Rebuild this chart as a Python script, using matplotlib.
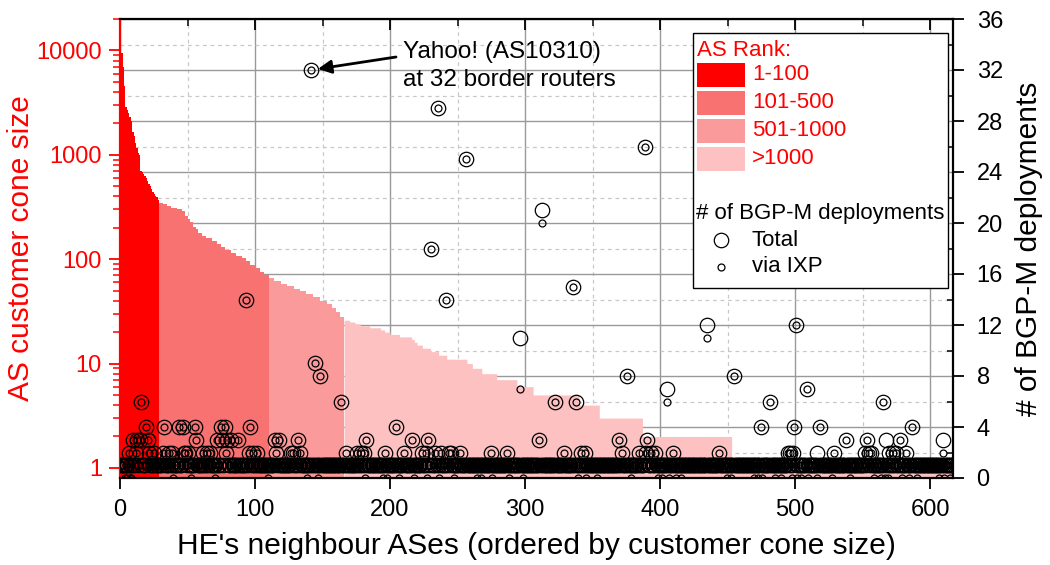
import numpy as np
import matplotlib
matplotlib.use('Agg')
import matplotlib.pyplot as plt
from matplotlib.patches import Rectangle
from matplotlib.lines import Line2D
from matplotlib.ticker import FixedLocator, MultipleLocator, NullFormatter

plt.rcParams['font.family'] = ['Liberation Sans', 'DejaVu Sans']

# customer cone size of each HE neighbour (sorted, largest first)
cone_rank100 = [17000, 9400, 7000, 4600, 2850, 2700, 2500, 2300, 2100, 1650,
                1500, 1300, 1150, 1050, 1000, 700, 680, 650, 620, 600,
                560, 530, 500, 470, 440, 420, 400, 390, 370]
# the rest as (cone size, number of ASes) runs
cone_runs = [(345, 3), (335, 3), (325, 3), (310, 4), (300, 4), (290, 2), (260, 2),
             (245, 2), (225, 2), (205, 2), (195, 2), (180, 3), (165, 3), (160, 4),
             (150, 4), (140, 3), (130, 3), (122, 4), (115, 4), (108, 4), (102, 3),
             (95, 3), (88, 4), (82, 4), (76, 3), (70, 3),
             (66, 4), (62, 5), (58, 5), (55, 5), (52, 4), (49, 5), (46, 5), (43, 5),
             (40, 5), (37, 4), (34, 3), (31, 3), (28, 3),
             (26, 4), (25, 4), (24, 4), (23, 7), (22, 8), (21, 3), (20, 4), (19, 7),
             (18, 9), (17, 2), (16, 2), (15, 4), (14, 6), (13, 6), (12, 6), (11, 15),
             (10, 4), (9, 7), (8, 11), (7, 15), (6, 12), (5, 34), (4, 15), (3, 32),
             (2, 66), (1, 164)]

rank_labels = ['1-100', '101-500', '501-1000', '>1000']
rank_counts = [29, 81, 56, 451]
rank_colors = ['#FF0000', '#F97272', '#FB9A9A', '#FDC1C1']

# ASes with more than one BGP-M deployment: index, total, via IXP
multi_idx = [141, 235, 256, 388, 312, 230, 335, 93, 241, 296, 434, 500, 144, 148,
             375, 454, 405, 508, 15, 163, 322, 337, 481, 565,
             19, 32, 43, 46, 55, 74, 77, 96, 204, 474, 499, 518, 586,
             9, 12, 14, 20, 56, 71, 75, 79, 82, 87, 114, 117, 131, 182, 216, 228,
             310, 369, 390, 537, 553, 577, 567, 609,
             6, 11, 21, 25, 31, 36, 38, 47, 48, 50, 61, 64, 66, 78, 95, 98, 101,
             115, 126, 128, 133, 167, 175, 178, 180, 196, 210, 223, 226, 233, 237,
             243, 245, 251, 274, 286, 328, 341, 344, 371, 384, 389, 393, 396, 409,
             443, 494, 496, 498, 516, 528, 551, 554, 556, 569, 572, 574, 582]
multi_total = [32, 29, 25, 26, 21, 18, 15, 14, 14, 11, 12, 12, 9, 8,
               8, 8, 7, 7, 6, 6, 6, 6, 6, 6,
               4, 4, 4, 4, 4, 4, 4, 4, 4, 4, 4, 4, 4,
               3, 3, 3, 3, 3, 3, 3, 3, 3, 3, 3, 3, 3, 3, 3, 3,
               3, 3, 3, 3, 3, 3, 3, 3,
               2, 2, 2, 2, 2, 2, 2, 2, 2, 2, 2, 2, 2, 2, 2, 2, 2,
               2, 2, 2, 2, 2, 2, 2, 2, 2, 2, 2, 2, 2, 2,
               2, 2, 2, 2, 2, 2, 2, 2, 2, 2, 2, 2, 2, 2,
               2, 2, 2, 2, 2, 2, 2, 2, 2, 2, 2, 2, 2]
multi_ixp = [32, 29, 25, 26, 20, 18, 15, 14, 14, 7, 11, 12, 9, 8,
             8, 8, 6, 7, 6, 6, 6, 6, 6, 6,
             4, 4, 4, 4, 4, 4, 4, 4, 4, 4, 4, 4, 4,
             3, 3, 3, 3, 3, 3, 3, 3, 3, 3, 3, 3, 3, 3, 3, 3,
             3, 3, 3, 3, 3, 3, 1, 2,
             2, 2, 2, 2, 2, 2, 2, 2, 2, 2, 2, 2, 2, 2, 2, 2, 2,
             2, 2, 2, 2, 2, 2, 2, 2, 2, 2, 2, 2, 2, 2,
             2, 2, 2, 2, 2, 2, 2, 2, 2, 2, 2, 2, 2, 2,
             2, 2, 2, 2, 0, 2, 2, 2, 2, 2, 2, 2, 2]
# single deployment that is not at an IXP
no_ixp_idx = [3, 5, 7, 8, 39, 52, 70, 109, 138, 146, 181, 194, 197, 206, 217,
              227, 236, 247, 264, 267, 275, 288, 298, 339, 345, 353, 378, 398,
              401, 406, 411, 415, 449, 452, 469, 472, 475, 485, 489, 497, 501,
              504, 509, 527, 540, 558, 563, 566, 568, 579, 584, 590, 606, 610, 614]

cone = list(cone_rank100)
for value, n in cone_runs:
    cone += [value] * n
cone = np.array(cone, dtype=float)
n_as = len(cone)
idx = np.arange(n_as)

total = np.ones(n_as)
ixp = np.ones(n_as)
total[multi_idx] = multi_total
ixp[multi_idx] = multi_ixp
ixp[no_ixp_idx] = 0

W, H = 1050, 565
fig = plt.figure(figsize=(W / 100, H / 100), dpi=100)
rect = [120 / W, 87 / H, 833 / W, 459 / H]

axg = fig.add_axes(rect)
axl = axg.twinx()
axc = axg.twinx()

# --- grid / right axis ---
axg.set_xlim(0, 617)
axg.set_ylim(0, 36)
axg.yaxis.tick_right()
axg.yaxis.set_label_position('right')
axg.yaxis.set_major_locator(MultipleLocator(4))
axg.yaxis.set_minor_locator(MultipleLocator(2))
axg.xaxis.set_major_locator(MultipleLocator(100))
axg.xaxis.set_minor_locator(MultipleLocator(50))
axg.grid(which='major', color='#999999', lw=1.0, ls='-')
axg.grid(which='minor', color='#c8c8c8', lw=0.9, ls=(0, (3, 3)))
axg.set_axisbelow(True)
axg.tick_params(axis='both', which='major', direction='out', length=8, width=1.3,
                labelsize=17, colors='black')
axg.tick_params(axis='both', which='minor', direction='in', length=4, width=1.1)
axg.tick_params(axis='y', which='both', left=False, right=True, labelleft=False,
                labelright=True, pad=9)
axg.tick_params(axis='x', which='both', top=False, bottom=True, pad=7)
axg.set_ylabel('# of BGP-M deployments', fontsize=21.5, rotation=90)
axg.yaxis.set_label_coords(1.074, 0.5)
axg.set_xlabel("HE's neighbour ASes (ordered by customer cone size)", fontsize=21.5,
               labelpad=8)
for s in axg.spines.values():
    s.set_visible(False)

# --- cone size bars (log, left axis) ---
axl.set_yscale('log')
axl.set_ylim(0.8, 20000)
axl.set_xlim(0, 617)
start = 0
for count, color in zip(rank_counts, rank_colors):
    end = start + count
    xs = np.arange(start, end + 1)
    ys = np.append(cone[start:end], cone[end - 1])
    axl.fill_between(xs, 0.1, ys, step='post', color=color, lw=0, zorder=1)
    start = end
axl.yaxis.tick_left()
axl.yaxis.set_label_position('left')
axl.yaxis.set_major_locator(FixedLocator([1, 10, 100, 1000, 10000]))
axl.set_yticklabels(['1', '10', '100', '1000', '10000'])
minor = [m * 10 ** e for e in range(0, 5) for m in range(2, 10)]
axl.yaxis.set_minor_locator(FixedLocator(minor))
axl.yaxis.set_minor_formatter(NullFormatter())
axl.tick_params(axis='y', which='major', direction='out', length=8, width=1.3,
                colors='red', labelsize=17, left=True, right=False, pad=5)
axl.tick_params(axis='y', which='minor', direction='out', length=5, width=1.1,
                colors='red', left=True, right=False)
axl.set_ylabel('AS customer cone size', color='red', fontsize=21.5)
axl.yaxis.set_label_coords(-0.102, 0.5)
for s in axl.spines.values():
    s.set_visible(False)

# --- deployment circles (right axis scale) ---
axc.set_xlim(0, 617)
axc.set_ylim(0, 36)
axc.plot(idx + 0.5, total, 'o', ms=10.4, mfc='none', mec='black', mew=0.9, zorder=3)
axc.plot(idx + 0.5, ixp, 'o', ms=5, mfc='none', mec='black', mew=0.9, zorder=3)
axc.set_yticks([])
axc.xaxis.set_visible(True)
axc.xaxis.set_major_locator(MultipleLocator(100))
axc.xaxis.set_minor_locator(MultipleLocator(50))
axc.tick_params(axis='x', which='both', top=True, bottom=False, labeltop=False,
                labelbottom=False, direction='in')
axc.tick_params(axis='x', which='major', length=8, width=1.3)
axc.tick_params(axis='x', which='minor', length=5, width=1.1)
axc.tick_params(axis='y', which='both', left=False, right=False,
                labelleft=False, labelright=False)
for name, s in axc.spines.items():
    s.set_linewidth(1.6)
    s.set_color('red' if name == 'left' else 'black')

axc.annotate('', xy=(141.5, 32), xycoords='data',
             xytext=(396 / W, 1 - 57 / H), textcoords='figure fraction',
             arrowprops=dict(arrowstyle='-|>', color='black', lw=2,
                             mutation_scale=20, shrinkA=0, shrinkB=5))
fig.text(403 / W, 1 - 66 / H, 'Yahoo! (AS10310)\nat 32 border routers',
         fontsize=17.5, va='center', ha='left', linespacing=1.3)


# --- legend box ---
def fpos(px, py):
    return px / W, 1 - py / H


fig.add_artist(Rectangle(fpos(693, 288), 255 / W, 255 / H, transform=fig.transFigure,
                         fc='white', ec='black', lw=1.0, zorder=5))
fig.text(*fpos(697, 50), 'AS Rank:', color='red', fontsize=16, va='center', zorder=6)
for label, color, yc in zip(rank_labels, rank_colors, [75, 103, 131, 159]):
    fig.add_artist(Rectangle(fpos(697, yc + 12), 48 / W, 24 / H,
                             transform=fig.transFigure, fc=color, ec='none', zorder=6))
    fig.text(*fpos(752, yc), label, color='red', fontsize=16, va='center', zorder=6)
fig.text(*fpos(696, 213), '# of BGP-M deployments', color='black', fontsize=16,
         va='center', zorder=6)
fig.add_artist(Line2D([721 / W], [1 - 240 / H], marker='o', ms=10.4, mfc='none',
                      mec='black', mew=0.9, ls='none', transform=fig.transFigure,
                      zorder=6))
fig.text(*fpos(752, 240), 'Total', fontsize=16, va='center', zorder=6)
fig.add_artist(Line2D([721 / W], [1 - 267 / H], marker='o', ms=5, mfc='none',
                      mec='black', mew=0.9, ls='none', transform=fig.transFigure,
                      zorder=6))
fig.text(*fpos(752, 267), 'via IXP', fontsize=16, va='center', zorder=6)

fig.savefig('out.png', dpi=100)
